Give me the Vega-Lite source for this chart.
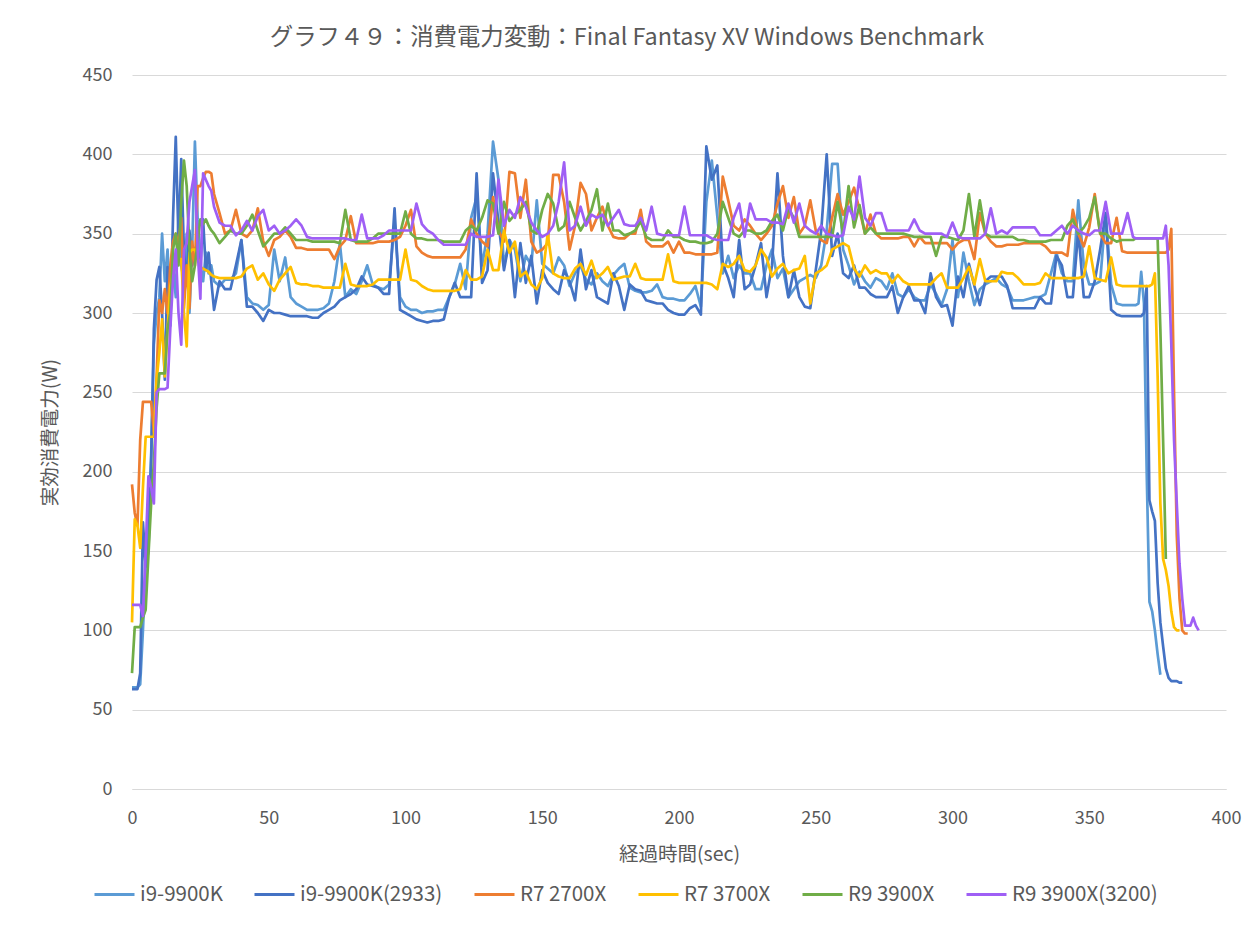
{
"$schema": "https://vega.github.io/schema/vega-lite/v6.json",
"width": 1094, "height": 714,
"autosize": {"type": "none"},
"padding": {"left": 132, "top": 75, "right": 31, "bottom": 141},
"background": "white",
"config": {"view": {"stroke": null}},
"title": {"text": "グラフ４９：消費電力変動：Final Fantasy XV Windows Benchmark", "font": "Noto Sans CJK JP", "fontSize": 23.4, "fontWeight": "normal", "color": "#595959", "anchor": "middle", "frame": "group", "dx": -52, "offset": 16},
"data": {"values": [
{"t":0,"a":64,"b":63,"c":192,"d":105,"e":73,"f":116},
{"t":1,"a":64,"b":63,"c":174,"d":170,"e":102,"f":116},
{"t":2,"a":64,"b":63,"c":166,"d":166,"e":102,"f":116},
{"t":3,"a":66,"b":73,"c":220,"d":152,"e":102,"f":116},
{"t":4,"a":100,"b":168,"c":244,"d":190,"e":108,"f":109},
{"t":5,"a":140,"b":140,"c":244,"d":222,"e":113,"f":150},
{"t":6,"a":170,"b":150,"c":244,"d":222,"e":147,"f":197},
{"t":7,"a":210,"b":206,"c":244,"d":222,"e":180,"f":190},
{"t":8,"a":280,"b":290,"c":225,"d":222,"e":206,"f":180},
{"t":9,"a":300,"b":321,"c":260,"d":258,"e":240,"f":250},
{"t":10,"a":310,"b":329,"c":308,"d":275,"e":262,"f":252},
{"t":11,"a":350,"b":300,"c":300,"d":296,"e":262,"f":252},
{"t":12,"a":320,"b":258,"c":315,"d":260,"e":262,"f":252},
{"t":13,"a":340,"b":329,"c":300,"d":290,"e":290,"f":253},
{"t":14,"a":300,"b":292,"c":330,"d":317,"e":300,"f":290},
{"t":15,"a":330,"b":360,"c":345,"d":325,"e":340,"f":321},
{"t":16,"a":310,"b":411,"c":350,"d":330,"e":350,"f":340},
{"t":17,"a":360,"b":346,"c":342,"d":334,"e":330,"f":300},
{"t":18,"a":330,"b":397,"c":360,"d":334,"e":370,"f":280},
{"t":19,"a":320,"b":338,"c":303,"d":300,"e":396,"f":340},
{"t":20,"a":350,"b":321,"c":330,"d":279,"e":380,"f":344},
{"t":21,"a":300,"b":352,"c":303,"d":338,"e":340,"f":370},
{"t":22,"a":340,"b":330,"c":345,"d":340,"e":320,"f":380},
{"t":23,"a":408,"b":340,"c":330,"d":340,"e":330,"f":390},
{"t":24,"a":359,"b":335,"c":380,"d":335,"e":345,"f":340},
{"t":25,"a":330,"b":330,"c":380,"d":329,"e":359,"f":309},
{"t":26,"a":320,"b":359,"c":385,"d":328,"e":356,"f":388},
{"t":27,"a":338,"b":327,"c":389,"d":327,"e":359,"f":384},
{"t":28,"a":325,"b":338,"c":389,"d":326,"e":355,"f":380},
{"t":29,"a":330,"b":320,"c":388,"d":324,"e":352,"f":377},
{"t":30,"a":320,"b":302,"c":375,"d":323,"e":350,"f":367},
{"t":32,"a":317,"b":320,"c":363,"d":322,"e":344,"f":357},
{"t":34,"a":321,"b":315,"c":350,"d":322,"e":348,"f":355},
{"t":36,"a":321,"b":315,"c":352,"d":322,"e":352,"f":355},
{"t":38,"a":325,"b":330,"c":365,"d":322,"e":350,"f":349},
{"t":40,"a":346,"b":346,"c":350,"d":323,"e":350,"f":352},
{"t":42,"a":310,"b":304,"c":348,"d":328,"e":355,"f":358},
{"t":44,"a":306,"b":304,"c":352,"d":330,"e":362,"f":352},
{"t":46,"a":305,"b":300,"c":366,"d":321,"e":352,"f":361},
{"t":48,"a":302,"b":295,"c":345,"d":325,"e":342,"f":365},
{"t":50,"a":305,"b":302,"c":336,"d":318,"e":346,"f":352},
{"t":52,"a":340,"b":300,"c":346,"d":314,"e":350,"f":355},
{"t":54,"a":320,"b":300,"c":348,"d":321,"e":350,"f":350},
{"t":56,"a":335,"b":299,"c":352,"d":325,"e":354,"f":352},
{"t":58,"a":310,"b":298,"c":348,"d":329,"e":350,"f":355},
{"t":60,"a":306,"b":298,"c":341,"d":319,"e":346,"f":359},
{"t":62,"a":304,"b":298,"c":341,"d":318,"e":346,"f":355},
{"t":64,"a":302,"b":298,"c":340,"d":318,"e":346,"f":348},
{"t":66,"a":302,"b":297,"c":340,"d":317,"e":345,"f":347},
{"t":68,"a":302,"b":297,"c":340,"d":317,"e":345,"f":347},
{"t":70,"a":303,"b":300,"c":340,"d":316,"e":345,"f":347},
{"t":72,"a":306,"b":302,"c":340,"d":316,"e":345,"f":347},
{"t":74,"a":320,"b":304,"c":334,"d":316,"e":345,"f":347},
{"t":76,"a":344,"b":308,"c":342,"d":316,"e":344,"f":347},
{"t":78,"a":310,"b":310,"c":346,"d":331,"e":365,"f":347},
{"t":80,"a":315,"b":312,"c":361,"d":318,"e":346,"f":346},
{"t":82,"a":312,"b":315,"c":344,"d":317,"e":345,"f":346},
{"t":84,"a":320,"b":323,"c":344,"d":317,"e":345,"f":362},
{"t":86,"a":330,"b":318,"c":344,"d":317,"e":345,"f":347},
{"t":88,"a":318,"b":317,"c":344,"d":318,"e":347,"f":347},
{"t":90,"a":316,"b":316,"c":345,"d":321,"e":350,"f":347},
{"t":92,"a":315,"b":312,"c":345,"d":321,"e":350,"f":349},
{"t":94,"a":318,"b":312,"c":345,"d":321,"e":350,"f":352},
{"t":96,"a":357,"b":366,"c":346,"d":321,"e":350,"f":352},
{"t":98,"a":310,"b":302,"c":348,"d":321,"e":350,"f":352},
{"t":100,"a":304,"b":300,"c":355,"d":340,"e":364,"f":352},
{"t":102,"a":302,"b":298,"c":365,"d":321,"e":350,"f":352},
{"t":104,"a":302,"b":296,"c":342,"d":320,"e":347,"f":369},
{"t":106,"a":300,"b":295,"c":338,"d":317,"e":347,"f":356},
{"t":108,"a":301,"b":294,"c":336,"d":315,"e":346,"f":352},
{"t":110,"a":301,"b":295,"c":335,"d":314,"e":346,"f":350},
{"t":112,"a":302,"b":295,"c":335,"d":314,"e":346,"f":346},
{"t":114,"a":302,"b":296,"c":335,"d":314,"e":345,"f":343},
{"t":116,"a":310,"b":310,"c":335,"d":314,"e":345,"f":343},
{"t":118,"a":318,"b":319,"c":335,"d":314,"e":345,"f":343},
{"t":120,"a":331,"b":310,"c":335,"d":315,"e":345,"f":343},
{"t":122,"a":315,"b":310,"c":340,"d":327,"e":352,"f":343},
{"t":124,"a":360,"b":310,"c":359,"d":321,"e":355,"f":350},
{"t":126,"a":373,"b":388,"c":350,"d":321,"e":352,"f":348},
{"t":128,"a":330,"b":319,"c":345,"d":323,"e":360,"f":348},
{"t":130,"a":350,"b":327,"c":342,"d":340,"e":371,"f":348},
{"t":132,"a":408,"b":388,"c":373,"d":327,"e":369,"f":349},
{"t":134,"a":384,"b":357,"c":352,"d":327,"e":350,"f":384},
{"t":136,"a":330,"b":327,"c":345,"d":352,"e":370,"f":355},
{"t":138,"a":346,"b":346,"c":389,"d":338,"e":358,"f":365},
{"t":140,"a":340,"b":310,"c":388,"d":345,"e":362,"f":360},
{"t":142,"a":320,"b":344,"c":360,"d":323,"e":365,"f":373},
{"t":144,"a":336,"b":319,"c":384,"d":326,"e":370,"f":367},
{"t":146,"a":330,"b":336,"c":345,"d":318,"e":352,"f":357},
{"t":148,"a":371,"b":306,"c":338,"d":315,"e":350,"f":352},
{"t":150,"a":331,"b":327,"c":340,"d":322,"e":365,"f":348},
{"t":152,"a":328,"b":319,"c":344,"d":350,"e":375,"f":350},
{"t":154,"a":325,"b":315,"c":387,"d":325,"e":369,"f":355},
{"t":156,"a":335,"b":312,"c":387,"d":323,"e":352,"f":370},
{"t":158,"a":330,"b":327,"c":370,"d":322,"e":355,"f":395},
{"t":160,"a":317,"b":320,"c":340,"d":322,"e":370,"f":352},
{"t":162,"a":325,"b":308,"c":355,"d":328,"e":360,"f":355},
{"t":164,"a":330,"b":340,"c":382,"d":331,"e":352,"f":367},
{"t":166,"a":321,"b":315,"c":375,"d":324,"e":358,"f":355},
{"t":168,"a":318,"b":327,"c":352,"d":333,"e":365,"f":362},
{"t":170,"a":325,"b":310,"c":360,"d":322,"e":378,"f":360},
{"t":172,"a":320,"b":308,"c":367,"d":325,"e":352,"f":362},
{"t":174,"a":317,"b":306,"c":355,"d":329,"e":369,"f":355},
{"t":176,"a":324,"b":325,"c":348,"d":321,"e":352,"f":360},
{"t":178,"a":328,"b":317,"c":347,"d":322,"e":352,"f":365},
{"t":180,"a":331,"b":302,"c":347,"d":323,"e":349,"f":356},
{"t":182,"a":316,"b":318,"c":350,"d":323,"e":350,"f":355},
{"t":184,"a":314,"b":315,"c":350,"d":331,"e":352,"f":355},
{"t":186,"a":313,"b":314,"c":365,"d":322,"e":358,"f":360},
{"t":188,"a":313,"b":308,"c":345,"d":321,"e":348,"f":352},
{"t":190,"a":314,"b":307,"c":342,"d":321,"e":346,"f":367},
{"t":192,"a":318,"b":306,"c":342,"d":321,"e":346,"f":350},
{"t":194,"a":310,"b":306,"c":342,"d":321,"e":346,"f":349},
{"t":196,"a":309,"b":302,"c":345,"d":337,"e":352,"f":349},
{"t":198,"a":309,"b":300,"c":338,"d":320,"e":348,"f":349},
{"t":200,"a":308,"b":299,"c":345,"d":319,"e":348,"f":349},
{"t":202,"a":308,"b":299,"c":338,"d":319,"e":346,"f":367},
{"t":204,"a":312,"b":303,"c":338,"d":319,"e":345,"f":349},
{"t":206,"a":317,"b":305,"c":337,"d":319,"e":345,"f":349},
{"t":208,"a":304,"b":299,"c":337,"d":319,"e":344,"f":349},
{"t":210,"a":370,"b":405,"c":337,"d":319,"e":344,"f":349},
{"t":212,"a":396,"b":384,"c":337,"d":318,"e":345,"f":347},
{"t":214,"a":361,"b":393,"c":338,"d":315,"e":350,"f":346},
{"t":216,"a":325,"b":331,"c":386,"d":331,"e":370,"f":346},
{"t":218,"a":336,"b":322,"c":371,"d":329,"e":360,"f":346},
{"t":220,"a":322,"b":310,"c":355,"d":331,"e":350,"f":360},
{"t":222,"a":330,"b":346,"c":352,"d":336,"e":348,"f":369},
{"t":224,"a":325,"b":315,"c":359,"d":327,"e":352,"f":348},
{"t":226,"a":325,"b":318,"c":355,"d":326,"e":352,"f":369},
{"t":228,"a":315,"b":330,"c":350,"d":330,"e":350,"f":359},
{"t":230,"a":315,"b":344,"c":346,"d":340,"e":350,"f":359},
{"t":232,"a":330,"b":310,"c":350,"d":335,"e":352,"f":359},
{"t":234,"a":340,"b":330,"c":355,"d":323,"e":358,"f":357},
{"t":236,"a":322,"b":388,"c":369,"d":328,"e":362,"f":357},
{"t":238,"a":328,"b":336,"c":380,"d":331,"e":352,"f":356},
{"t":240,"a":310,"b":310,"c":360,"d":325,"e":366,"f":369},
{"t":242,"a":315,"b":327,"c":373,"d":327,"e":360,"f":357},
{"t":244,"a":320,"b":310,"c":350,"d":328,"e":348,"f":369},
{"t":246,"a":322,"b":304,"c":355,"d":336,"e":348,"f":355},
{"t":248,"a":324,"b":303,"c":371,"d":306,"e":348,"f":352},
{"t":250,"a":322,"b":327,"c":352,"d":325,"e":348,"f":350},
{"t":252,"a":330,"b":352,"c":346,"d":327,"e":348,"f":355},
{"t":254,"a":352,"b":400,"c":344,"d":330,"e":348,"f":350},
{"t":256,"a":394,"b":336,"c":360,"d":340,"e":348,"f":349},
{"t":258,"a":394,"b":350,"c":375,"d":342,"e":370,"f":348},
{"t":260,"a":340,"b":325,"c":362,"d":344,"e":350,"f":349},
{"t":262,"a":330,"b":322,"c":370,"d":342,"e":380,"f":367},
{"t":264,"a":318,"b":330,"c":379,"d":328,"e":354,"f":359},
{"t":266,"a":326,"b":316,"c":365,"d":323,"e":368,"f":386},
{"t":268,"a":320,"b":316,"c":350,"d":330,"e":350,"f":360},
{"t":270,"a":316,"b":312,"c":362,"d":325,"e":354,"f":355},
{"t":272,"a":322,"b":310,"c":350,"d":327,"e":350,"f":363},
{"t":274,"a":320,"b":310,"c":347,"d":325,"e":350,"f":363},
{"t":276,"a":315,"b":310,"c":347,"d":325,"e":350,"f":352},
{"t":278,"a":325,"b":317,"c":347,"d":319,"e":350,"f":352},
{"t":280,"a":312,"b":300,"c":347,"d":324,"e":350,"f":352},
{"t":282,"a":310,"b":310,"c":348,"d":320,"e":350,"f":352},
{"t":284,"a":315,"b":317,"c":348,"d":318,"e":349,"f":352},
{"t":286,"a":310,"b":308,"c":342,"d":318,"e":348,"f":359},
{"t":288,"a":308,"b":308,"c":348,"d":318,"e":348,"f":352},
{"t":290,"a":308,"b":300,"c":344,"d":318,"e":348,"f":350},
{"t":292,"a":318,"b":325,"c":344,"d":318,"e":348,"f":350},
{"t":294,"a":312,"b":310,"c":344,"d":322,"e":336,"f":350},
{"t":296,"a":305,"b":304,"c":344,"d":325,"e":348,"f":350},
{"t":298,"a":315,"b":305,"c":344,"d":316,"e":348,"f":348},
{"t":300,"a":346,"b":292,"c":340,"d":316,"e":347,"f":357},
{"t":302,"a":310,"b":323,"c":344,"d":316,"e":346,"f":348},
{"t":304,"a":338,"b":310,"c":346,"d":322,"e":352,"f":347},
{"t":306,"a":320,"b":331,"c":346,"d":329,"e":375,"f":347},
{"t":308,"a":305,"b":317,"c":334,"d":318,"e":348,"f":347},
{"t":310,"a":315,"b":305,"c":363,"d":334,"e":371,"f":347},
{"t":312,"a":318,"b":320,"c":350,"d":320,"e":350,"f":350},
{"t":314,"a":320,"b":323,"c":345,"d":320,"e":348,"f":366},
{"t":316,"a":322,"b":323,"c":342,"d":320,"e":348,"f":350},
{"t":318,"a":318,"b":323,"c":342,"d":326,"e":348,"f":352},
{"t":320,"a":316,"b":317,"c":343,"d":325,"e":348,"f":350},
{"t":322,"a":308,"b":303,"c":343,"d":325,"e":348,"f":354},
{"t":324,"a":308,"b":303,"c":343,"d":322,"e":346,"f":354},
{"t":326,"a":308,"b":303,"c":344,"d":318,"e":346,"f":354},
{"t":328,"a":309,"b":303,"c":344,"d":318,"e":345,"f":354},
{"t":330,"a":310,"b":303,"c":344,"d":318,"e":345,"f":354},
{"t":332,"a":310,"b":310,"c":344,"d":319,"e":345,"f":349},
{"t":334,"a":312,"b":306,"c":342,"d":325,"e":345,"f":349},
{"t":336,"a":325,"b":306,"c":338,"d":322,"e":346,"f":349},
{"t":338,"a":338,"b":336,"c":338,"d":322,"e":346,"f":352},
{"t":340,"a":325,"b":330,"c":338,"d":322,"e":346,"f":355},
{"t":342,"a":320,"b":310,"c":336,"d":322,"e":355,"f":350},
{"t":344,"a":320,"b":310,"c":365,"d":322,"e":359,"f":355},
{"t":346,"a":371,"b":352,"c":350,"d":322,"e":350,"f":352},
{"t":348,"a":330,"b":310,"c":342,"d":323,"e":354,"f":350},
{"t":350,"a":318,"b":310,"c":354,"d":342,"e":360,"f":349},
{"t":352,"a":318,"b":320,"c":375,"d":322,"e":373,"f":352},
{"t":354,"a":320,"b":340,"c":350,"d":321,"e":350,"f":352},
{"t":356,"a":363,"b":363,"c":344,"d":320,"e":350,"f":370},
{"t":358,"a":318,"b":302,"c":344,"d":335,"e":347,"f":350},
{"t":360,"a":306,"b":299,"c":360,"d":318,"e":345,"f":350},
{"t":362,"a":305,"b":298,"c":339,"d":317,"e":346,"f":350},
{"t":364,"a":305,"b":298,"c":338,"d":317,"e":346,"f":363},
{"t":366,"a":305,"b":298,"c":338,"d":317,"e":346,"f":348},
{"t":367,"a":305,"b":298,"c":338,"d":317,"e":347,"f":347},
{"t":368,"a":306,"b":298,"c":338,"d":317,"e":347,"f":347},
{"t":369,"a":326,"b":298,"c":338,"d":317,"e":347,"f":347},
{"t":370,"a":306,"b":300,"c":338,"d":317,"e":347,"f":347},
{"t":371,"a":200,"b":317,"c":338,"d":317,"e":347,"f":347},
{"t":372,"a":118,"b":182,"c":338,"d":317,"e":347,"f":347},
{"t":373,"a":112,"b":175,"c":338,"d":318,"e":347,"f":347},
{"t":374,"a":100,"b":169,"c":338,"d":325,"e":347,"f":347},
{"t":375,"a":85,"b":130,"c":338,"d":260,"e":347,"f":347},
{"t":376,"a":72,"b":105,"c":338,"d":180,"e":290,"f":347},
{"t":377,"b":90,"c":338,"d":145,"e":220,"f":347},
{"t":378,"b":76,"c":338,"d":138,"e":145,"f":355},
{"t":379,"b":70,"c":340,"d":128,"f":330},
{"t":380,"b":68,"c":353,"d":112,"f":280},
{"t":381,"b":68,"c":250,"d":102,"f":220},
{"t":382,"b":68,"c":160,"d":100,"f":180},
{"t":383,"b":67,"c":120,"d":100,"f":142},
{"t":384,"b":67,"c":100,"f":120},
{"t":385,"c":98,"f":103},
{"t":386,"c":98,"f":103},
{"t":387,"f":103},
{"t":388,"f":108},
{"t":389,"f":103},
{"t":390,"f":100}
]},
"transform": [
  {"fold": ["a","b","c","d","e","f"], "as": ["s","v"]},
  {"filter": "isValid(datum.v)"}
],
"mark": {"type": "line", "strokeWidth": 2.7, "strokeJoin": "round"},
"encoding": {
  "x": {"field": "t", "type": "quantitative", "scale": {"domain": [0, 400], "nice": false, "zero": false},
        "axis": {"title": "経過時間(sec)", "values": [0,50,100,150,200,250,300,350,400], "grid": false, "ticks": false, "domain": true, "domainColor": "#d9d9d9", "labelFlush": false, "labelPadding": 20, "titlePadding": 18,
                 "labelFont": "Noto Sans CJK JP", "labelFontSize": 18, "labelColor": "#595959", "titleFont": "Noto Sans CJK JP", "titleFontSize": 19.5, "titleFontWeight": "normal", "titleColor": "#595959"}},
  "y": {"field": "v", "type": "quantitative", "scale": {"domain": [0, 450], "nice": false},
        "axis": {"title": "実効消費電力(W)", "values": [0,50,100,150,200,250,300,350,400,450], "grid": true, "gridColor": "#d9d9d9", "gridWidth": 1, "ticks": false, "domain": false, "labelPadding": 20, "titlePadding": 22,
                 "labelFont": "Noto Sans CJK JP", "labelFontSize": 18, "labelColor": "#595959", "titleFont": "Noto Sans CJK JP", "titleFontSize": 19.5, "titleFontWeight": "normal", "titleColor": "#595959"}},
  "color": {"field": "s", "type": "nominal",
            "scale": {"domain": ["a","b","c","d","e","f"], "range": ["#5B9BD5","#4472C4","#ED7D31","#FFC000","#70AD47","#9F5FF5"]},
            "legend": {"title": null, "orient": "none", "direction": "horizontal", "legendX": -39, "legendY": 798,
                       "labelExpr": "datum.label=='a'?'i9-9900K':datum.label=='b'?'i9-9900K(2933)':datum.label=='c'?'R7 2700X':datum.label=='d'?'R7 3700X':datum.label=='e'?'R9 3900X':'R9 3900X(3200)'",
                       "symbolType": "stroke", "symbolStrokeWidth": 3, "symbolSize": 1600, "labelFont": "Noto Sans CJK JP", "labelFontSize": 20.5, "labelColor": "#595959", "columnPadding": 25, "labelOffset": 4}}
}
}
